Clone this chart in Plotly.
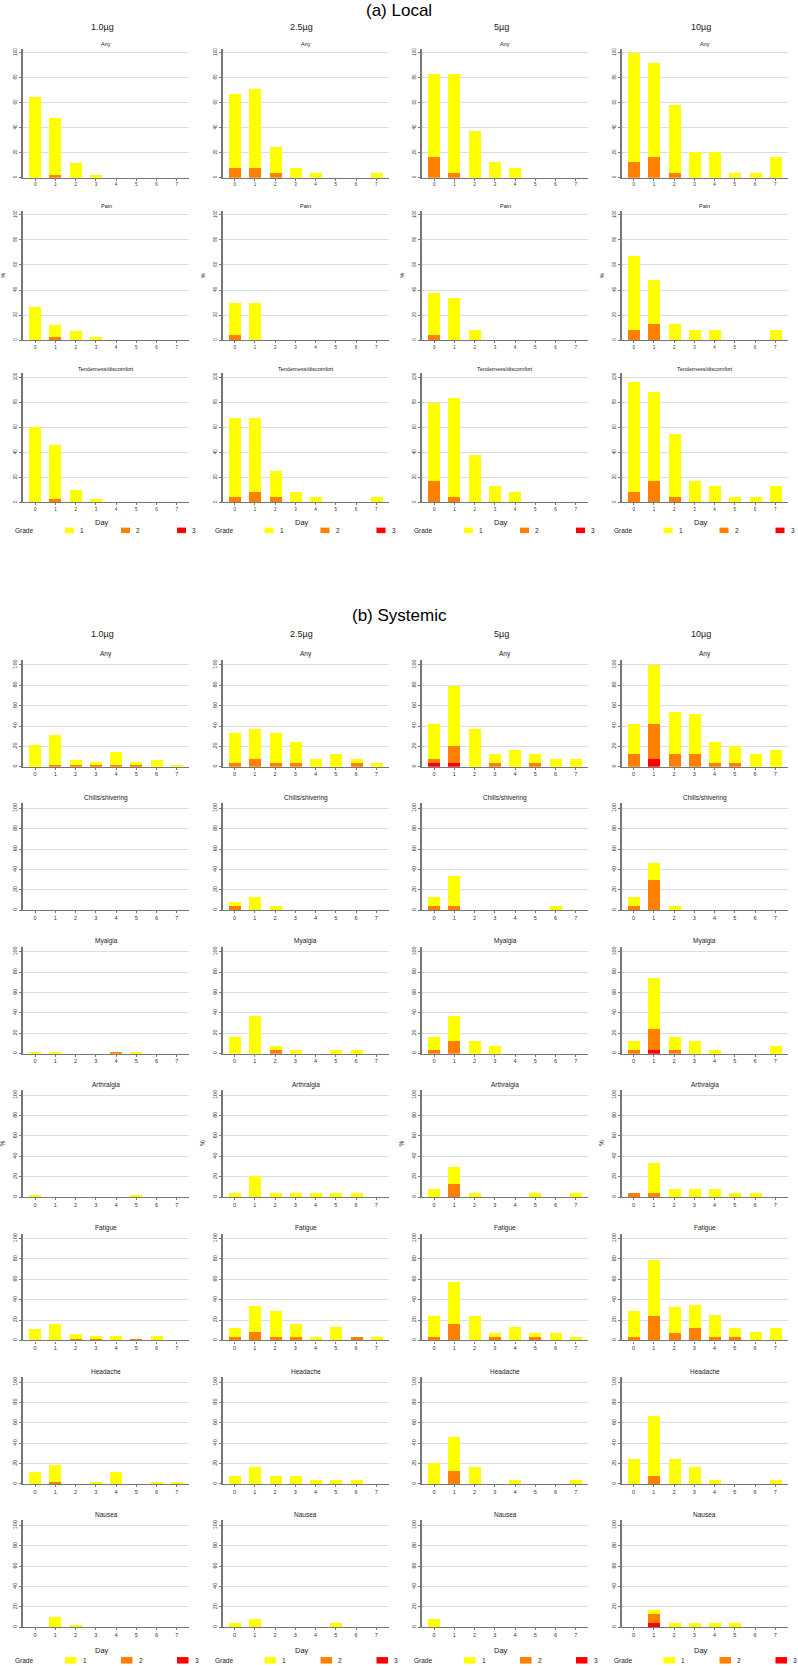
import plotly.graph_objects as go

# ---------------- data (percent of participants, stacked by grade) ----------------
DAYS = [0, 1, 2, 3, 4, 5, 6, 7]
DOSES = ["1.0µg", "2.5µg", "5µg", "10µg"]
GRADES = ["1", "2", "3"]
GRADE_COLORS = {"1": "#FFFF00", "2": "#FF8000", "3": "#FF0000"}
NONE = [0, 0, 0, 0, 0, 0, 0, 0]

# each entry: dose -> (grade 1 segment, grade 2 segment, grade 3 segment)
local_any = {
    "1.0µg": ([64.3, 45.2, 11.9, 2.4, 0, 0, 0, 0], [0, 2.4, 0, 0, 0, 0, 0, 0], NONE),
    "2.5µg": ([58.4, 62.5, 20.8, 8.3, 4.2, 0, 0, 4.2], [8.3, 8.3, 4.2, 0, 0, 0, 0, 0], NONE),
    "5µg": ([66.6, 79.1, 37.5, 12.5, 8.3, 0, 0, 0], [16.7, 4.2, 0, 0, 0, 0, 0, 0], NONE),
    "10µg": ([87.5, 75.0, 54.1, 20.8, 20.8, 4.2, 4.2, 16.7], [12.5, 16.7, 4.2, 0, 0, 0, 0, 0], NONE),
}
local_pain = {
    "1.0µg": ([26.2, 9.5, 7.1, 2.4, 0, 0, 0, 0], [0, 2.4, 0, 0, 0, 0, 0, 0], NONE),
    "2.5µg": ([25.0, 29.2, 0, 0, 0, 0, 0, 0], [4.2, 0, 0, 0, 0, 0, 0, 0], NONE),
    "5µg": ([33.3, 33.3, 8.3, 0, 0, 0, 0, 0], [4.2, 0, 0, 0, 0, 0, 0, 0], NONE),
    "10µg": ([58.4, 35.3, 12.5, 8.3, 8.3, 0, 0, 8.3], [8.3, 12.5, 0, 0, 0, 0, 0, 0], NONE),
}
local_tender = {
    "1.0µg": ([59.5, 42.8, 9.5, 2.4, 0, 0, 0, 0], [0, 2.4, 0, 0, 0, 0, 0, 0], NONE),
    "2.5µg": ([62.5, 58.4, 20.8, 8.3, 4.2, 0, 0, 4.2], [4.2, 8.3, 4.2, 0, 0, 0, 0, 0], NONE),
    "5µg": ([62.5, 79.1, 37.5, 12.5, 8.3, 0, 0, 0], [16.7, 4.2, 0, 0, 0, 0, 0, 0], NONE),
    "10µg": ([87.5, 70.8, 50.0, 16.7, 12.5, 4.2, 4.2, 12.5], [8.3, 16.7, 4.2, 0, 0, 0, 0, 0], NONE),
}

sys_any = {
    "1.0µg": ([21.4, 28.6, 4.7, 2.4, 11.9, 2.4, 7.1, 2.4], [0, 2.4, 2.4, 2.4, 2.4, 2.4, 0, 0], NONE),
    "2.5µg": ([29.1, 29.2, 29.1, 20.8, 8.3, 13.0, 4.1, 4.2], [4.2, 8.3, 4.2, 4.2, 0, 0, 4.2, 0], NONE),
    "5µg": ([33.5, 58.4, 37.5, 8.3, 16.7, 8.3, 8.3, 8.3], [4.0, 16.6, 0, 4.2, 0, 4.2, 0, 0],
            [4.2, 4.2, 0, 0, 0, 0, 0, 0]),
    "10µg": ([29.2, 58.3, 41.7, 39.5, 20.8, 16.6, 12.5, 16.7], [12.5, 33.4, 12.5, 12.5, 4.2, 4.2, 0, 0],
             [0, 8.3, 0, 0, 0, 0, 0, 0]),
}
sys_chills = {
    "1.0µg": (NONE, NONE, NONE),
    "2.5µg": ([4.1, 12.5, 4.2, 0, 0, 0, 0, 0], [4.2, 0, 0, 0, 0, 0, 0, 0], NONE),
    "5µg": ([8.3, 29.1, 0, 0, 0, 0, 4.2, 0], [4.2, 4.2, 0, 0, 0, 0, 0, 0], NONE),
    "10µg": ([8.3, 16.6, 4.2, 0, 0, 0, 0, 0], [4.2, 29.2, 0, 0, 0, 0, 0, 0], NONE),
}
sys_myalgia = {
    "1.0µg": ([2.4, 2.4, 0, 0, 0, 2.4, 0, 0], [0, 0, 0, 0, 2.4, 0, 0, 0], NONE),
    "2.5µg": ([16.7, 37.5, 4.1, 4.2, 0, 4.2, 4.2, 0], [0, 0, 4.2, 0, 0, 0, 0, 0], NONE),
    "5µg": ([12.5, 25.0, 12.5, 8.3, 0, 0, 0, 0], [4.2, 12.5, 0, 0, 0, 0, 0, 0], NONE),
    "10µg": ([8.3, 50.0, 12.5, 12.5, 4.2, 0, 0, 8.3], [4.2, 20.8, 4.2, 0, 0, 0, 0, 0],
             [0, 4.2, 0, 0, 0, 0, 0, 0]),
}
sys_arthralgia = {
    "1.0µg": ([2.4, 0, 0, 0, 0, 2.4, 0, 0], NONE, NONE),
    "2.5µg": ([4.2, 20.8, 4.2, 4.2, 4.2, 4.2, 4.2, 0], NONE, NONE),
    "5µg": ([8.3, 16.7, 4.2, 0, 0, 4.2, 0, 4.2], [0, 12.5, 0, 0, 0, 0, 0, 0], NONE),
    "10µg": ([0, 29.1, 8.3, 8.3, 8.3, 4.2, 4.2, 0], [4.2, 4.2, 0, 0, 0, 0, 0, 0], NONE),
}
sys_fatigue = {
    "1.0µg": ([11.9, 16.7, 4.7, 2.4, 4.8, 0, 4.8, 0], [0, 0, 2.4, 2.4, 0, 2.4, 0, 0], NONE),
    "2.5µg": ([8.3, 26.3, 25.0, 12.5, 4.2, 13.4, 0, 4.2], [4.2, 8.5, 4.2, 4.2, 0, 0, 4.2, 0], NONE),
    "5µg": ([20.8, 41.6, 25.0, 4.1, 13.8, 4.1, 8.3, 4.2], [4.2, 16.7, 0, 4.2, 0, 4.2, 0, 0], NONE),
    "10µg": ([25.0, 54.2, 25.0, 22.5, 21.7, 8.3, 9.2, 12.5], [4.2, 25.0, 8.3, 12.5, 4.2, 4.2, 0, 0], NONE),
}
sys_headache = {
    "1.0µg": ([11.9, 16.6, 0, 2.4, 11.9, 0, 2.4, 2.4], [0, 2.4, 0, 0, 0, 0, 0, 0], NONE),
    "2.5µg": ([8.3, 16.7, 8.3, 8.3, 4.2, 4.2, 4.2, 0], NONE, NONE),
    "5µg": ([20.8, 33.3, 16.7, 0, 4.2, 0, 0, 4.2], [0, 12.5, 0, 0, 0, 0, 0, 0], NONE),
    "10µg": ([25.0, 58.4, 25.0, 16.7, 4.2, 0, 0, 4.2], [0, 8.3, 0, 0, 0, 0, 0, 0], NONE),
}
sys_nausea = {
    "1.0µg": ([0, 9.5, 2.4, 0, 0, 0, 0, 0], NONE, NONE),
    "2.5µg": ([4.2, 8.3, 0, 0, 0, 4.2, 0, 0], NONE, NONE),
    "5µg": ([8.3, 0, 0, 0, 0, 0, 0, 0], NONE, NONE),
    "10µg": ([0, 4.2, 4.2, 4.2, 4.2, 4.2, 0, 0], [0, 8.3, 0, 0, 0, 0, 0, 0],
             [0, 4.2, 0, 0, 0, 0, 0, 0]),
}

LOCAL_PANELS = [("Any", local_any), ("Pain", local_pain), ("Tenderness/discomfort", local_tender)]
SYSTEMIC_PANELS = [("Any", sys_any), ("Chills/shivering", sys_chills), ("Myalgia", sys_myalgia),
                   ("Arthralgia", sys_arthralgia), ("Fatigue", sys_fatigue),
                   ("Headache", sys_headache), ("Nausea", sys_nausea)]

# ---------------- layout helpers (pixel -> paper) ----------------
W, H = 798, 1666
FONT = "Liberation Sans, Arial, sans-serif"
COL_X0 = [23 + 199.5 * c for c in range(4)]
PLOT_W = 166


def px(x):
    return x / W


def py(y):
    return 1 - y / H


fig = go.Figure()
annotations = []
shapes = []
layout_axes = {}
n = 0


def text(x, y, s, size, color="#1A1A1A", angle=0, xanchor="center"):
    annotations.append(dict(x=px(x), y=py(y), xref="paper", yref="paper", text=s,
                            showarrow=False, textangle=angle, xanchor=xanchor, yanchor="middle",
                            font=dict(family=FONT, size=size, color=color)))


def add_section(panels, y0_first, pitch, ymax, scale, tick_size, title_size, title_gap, day_gap,
                legend_gap, sw_w, sw_h, title_y, header_y, title):
    global n
    text(W / 2, title_y, title, 17, color="#000000")
    for c, dose in enumerate(DOSES):
        x0 = COL_X0[c]
        text(x0 + 79, header_y, dose, 9)
        for r, (name, table) in enumerate(panels):
            n += 1
            y0 = y0_first + pitch * r
            ytop = y0 - ymax * scale
            xa, ya = f"x{n}", f"y{n}"
            g1, g2, g3 = table[dose]
            for g, vals in zip(["3", "2", "1"], [g3, g2, g1]):
                fig.add_trace(go.Bar(x=DAYS, y=vals, width=0.6, marker_color=GRADE_COLORS[g],
                                     marker_line_width=0, xaxis=xa, yaxis=ya, showlegend=False,
                                     name=g))
            layout_axes[f"xaxis{n}"] = dict(
                domain=[px(x0), px(x0 + PLOT_W)], anchor=ya, range=[-0.6, 7.6],
                tickvals=DAYS, ticktext=[str(d) for d in DAYS], showgrid=False, zeroline=False,
                showline=True, linecolor="#777777", linewidth=1.2, ticks="outside", ticklen=2,
                tickcolor="#777777", tickfont=dict(family=FONT, size=tick_size, color="#333333"))
            layout_axes[f"yaxis{n}"] = dict(
                domain=[py(y0), py(ytop)], anchor=xa, range=[0, ymax],
                tickvals=[0, 20, 40, 60, 80, 100], tickangle=-90, showgrid=True,
                gridcolor="#DDDDDD", gridwidth=1, zeroline=False, showline=True,
                linecolor="#777777", linewidth=1.5, ticks="outside", ticklen=2,
                tickcolor="#777777", tickfont=dict(family=FONT, size=tick_size, color="#333333"))
            text(x0 + 83, y0 - 100 * scale - title_gap, name, title_size)
            if r == len(panels) // 2:
                text(x0 - 20, (y0 + ytop) / 2, "%", title_size, angle=-90)
        # x title and grade key under the last row
        y_last = y0_first + pitch * (len(panels) - 1)
        text(x0 + 79, y_last + day_gap, "Day", 7.5)
        ly = y_last + day_gap + legend_gap
        text(x0 - 10, ly, "Grade", 6.5, xanchor="left")
        for k, g in enumerate(GRADES):
            sx = x0 + 42 + 56 * k
            shapes.append(dict(type="rect", xref="paper", yref="paper",
                               x0=px(sx), x1=px(sx + sw_w), y0=py(ly - sw_h / 2), y1=py(ly + sw_h / 2),
                               fillcolor=GRADE_COLORS[g], line=dict(width=0)))
            text(sx + sw_w + 8, ly, g, 6.5)


add_section(LOCAL_PANELS, y0_first=177, pitch=162.5, ymax=103, scale=1.253, tick_size=4.5,
            title_size=5.5, title_gap=8.5, day_gap=20, legend_gap=8, sw_w=9, sw_h=5.5,
            title_y=10, header_y=26, title="(a) Local")
add_section(SYSTEMIC_PANELS, y0_first=766.7, pitch=143.6, ymax=105, scale=1.02, tick_size=5.5,
            title_size=6.5, title_gap=10.5, day_gap=23, legend_gap=10, sw_w=11.5, sw_h=6.5,
            title_y=615, header_y=634, title="(b) Systemic")

fig.update_layout(
    width=W, height=H, margin=dict(l=0, r=0, t=0, b=0),
    paper_bgcolor="white", plot_bgcolor="white", barmode="stack", bargap=0,
    annotations=annotations, shapes=shapes, showlegend=False,
    font=dict(family=FONT), **layout_axes,
)

# the page body has a default 8px margin; drop it so the figure sits at the window origin
fig.write_html("out.html", config={"displayModeBar": False},
               post_script="document.body.style.margin='0px';")
